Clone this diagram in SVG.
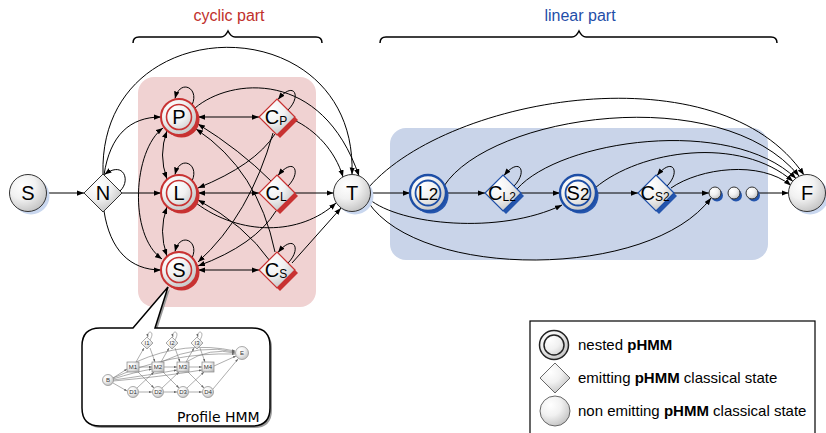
<svg xmlns="http://www.w3.org/2000/svg" width="826" height="433" viewBox="0 0 826 433">
<defs>
  <radialGradient id="g" cx="0.35" cy="0.3" r="0.8">
    <stop offset="0" stop-color="#ffffff"/>
    <stop offset="0.45" stop-color="#f1f1f1"/>
    <stop offset="1" stop-color="#bdbdbd"/>
  </radialGradient>
  <marker id="a" viewBox="0 0 8 6" markerWidth="7" markerHeight="5.5" refX="8" refY="3" orient="auto-start-reverse" markerUnits="userSpaceOnUse">
    <path d="M0,0 L8,3 L0,6 z" fill="#000"/>
  </marker>
  <marker id="sa" viewBox="0 0 8 6" markerWidth="3" markerHeight="2.4" refX="8" refY="3" orient="auto" markerUnits="userSpaceOnUse">
    <path d="M0,0 L8,3 L0,6 z" fill="#666"/>
  </marker>
</defs>
<style>
  .e{fill:none;stroke:#000;stroke-width:1;marker-end:url(#a)}
  .bi{marker-start:url(#a)}
  .lbl{font-family:"Liberation Sans",Arial,sans-serif;font-size:20px;text-anchor:middle;fill:#000}
  .sub{font-size:12px}
  .nf{fill:url(#g);stroke:#333;stroke-width:1}
  .ls{fill:#c9d7ef}
  .rf{fill:url(#g);stroke:#c83232;stroke-width:2}
  .rin{fill:none;stroke:#c83232;stroke-width:1.6}
  .rd{fill:url(#g);stroke:#c83232;stroke-width:1.2}
  .rs{fill:#c83232}
  .bf{fill:url(#g);stroke:#1d4ea6;stroke-width:2.4}
  .bin{fill:none;stroke:#1d4ea6;stroke-width:1.8}
  .bd{fill:url(#g);stroke:#1d4ea6;stroke-width:1.2}
  .bs{fill:#2455ad}
  .ttl{font-family:"Liberation Sans",Arial,sans-serif;font-size:16px;text-anchor:middle}
  .brace{fill:none;stroke:#000;stroke-width:1.5}
  .leg{font-family:"Liberation Sans",Arial,sans-serif;font-size:15px;fill:#000}
  .pe{fill:none;stroke:#777;stroke-width:0.6;marker-end:url(#sa)}
  .pn{fill:url(#g);stroke:#888;stroke-width:0.7}
  .pt{font-family:"Liberation Sans",Arial,sans-serif;font-size:6px;text-anchor:middle;fill:#333}
</style>

<!-- titles and braces -->
<g id="titles">
  <text x="229" y="21" class="ttl" fill="#c0302c">cyclic part</text>
  <path class="brace" d="M133,43 Q133,37 139,37 L221,37 Q225,37 228,31 Q231,37 235,37 L316,37 Q322,37 322,43"/>
  <text x="580" y="21" class="ttl" fill="#1f4ea8">linear part</text>
  <path class="brace" d="M380,43 Q380,37 386,37 L572,37 Q576,37 579,31 Q582,37 586,37 L771,37 Q777,37 777,43"/>
</g>

<!-- background regions -->
<rect id="cyclic-bg" x="138" y="77" width="178" height="230" rx="16" fill="#f0d2d2"/>
<rect id="linear-bg" x="390" y="128" width="378" height="132" rx="16" fill="#c9d4e9"/>

<!-- connectors -->
<g id="connectors">
  <path class="e" d="M47.5,193 L84,193"/>
  <path class="e" d="M120,191 C131,181 124,160 104.5,174.5"/>
  <path class="e" d="M103,174 C98,5 358,5 352,174.5"/>
  <path class="e" d="M104,175 C110,135 130,117 161,117"/>
  <path class="e" d="M122,193 L161,193"/>
  <path class="e" d="M104,211 C110,250 130,270 161,270"/>

  <path class="e" d="M192,105 C200,88 180,78 175,98.5"/>
  <path class="e" d="M192,181 C200,164 180,154 175,174.5"/>
  <path class="e" d="M192,258 C200,241 180,231 175,251.5"/>

  <path class="e bi" d="M167,131 Q158,155 167,179"/>
  <path class="e bi" d="M167,207 Q158,231 167,256" stroke-width="1.5"/>
  <path class="e bi" d="M163,128 C133,150 128,235 162,259"/>

  <path class="e bi" d="M198,117 L259,117"/>
  <path class="e bi" d="M198,193 L259,193"/>
  <path class="e bi" d="M198,270 L259,270"/>

  <path class="e" d="M288,110 C302,96 294,80 278,99.5"/>
  <path class="e" d="M288,186 C302,172 294,156 278,175.5"/>
  <path class="e" d="M288,263 C302,249 294,233 278,252.5"/>

  <path class="e" d="M275,134 Q255,165 198,188"/>
  <path class="e" d="M273,133 Q250,215 198,262"/>
  <path class="e" d="M271,181 Q240,150 198,124"/>
  <path class="e" d="M276,211 Q255,245 198,266"/>
  <path class="e" d="M275,252 Q258,170 196,129"/>
  <path class="e" d="M270,261 Q245,225 198,200"/>

  <path class="e" d="M294,120 C315,130 335,150 343,177"/>
  <path class="e" d="M295,193 L333.5,193"/>
  <path class="e" d="M292,263 L341,208"/>
  <path class="e" d="M196,203 C240,236 300,236 336,203"/>
  <path class="e" d="M195,108 C230,78 322,68 359,176"/>

  <path class="e" d="M370.5,193 L410,193"/>
  <path class="e" d="M446,193 L485,193"/>
  <path class="e" d="M521,193 L560,193"/>
  <path class="e" d="M596,193 L638,193"/>
  <path class="e" d="M674,193 L709,193"/>
  <path class="e" d="M758,193 L788.5,193"/>
  <path class="e" d="M514,186 C528,172 520,156 504,175.5"/>
  <path class="e" d="M667,186 C681,172 673,156 657,175.5"/>

  <path class="e" d="M369,199 C400,225 500,235 562,205"/>
  <path class="e" d="M368,202 C420,280 650,280 711,198"/>
  <path class="e" d="M369,187 C450,95 720,50 804,175"/>
  <path class="e" d="M444,186 C490,115 720,80 799,176"/>
  <path class="e" d="M517,189 C560,140 730,115 796,178.5"/>
  <path class="e" d="M595,188 C640,150 740,135 793,181.5"/>
  <path class="e" d="M671,188 C700,168 760,160 791,185.5"/>
</g>

<!-- nodes -->
<g id="node-start">
  <circle cx="31" cy="196" r="18.5" class="ls"/>
  <circle cx="28" cy="193" r="18.5" class="nf"/>
  <text x="28" y="200" class="lbl">S</text>
</g>
<g id="node-N">
  <path d="M103,174 L122,193 L103,212 L84,193 z" class="nf"/>
  <text x="103" y="200" class="lbl">N</text>
</g>
<g id="node-P">
  <circle cx="181.5" cy="119.5" r="18" class="rs"/>
  <circle cx="179" cy="117" r="18" class="rf"/>
  <circle cx="179" cy="117" r="12.5" class="rin"/>
  <text x="179" y="124" class="lbl">P</text>
</g>
<g id="node-L">
  <circle cx="181.5" cy="195.5" r="18" class="rs"/>
  <circle cx="179" cy="193" r="18" class="rf"/>
  <circle cx="179" cy="193" r="12.5" class="rin"/>
  <text x="179" y="200" class="lbl">L</text>
</g>
<g id="node-S">
  <circle cx="181.5" cy="272.5" r="18" class="rs"/>
  <circle cx="179" cy="270" r="18" class="rf"/>
  <circle cx="179" cy="270" r="12.5" class="rin"/>
  <text x="179" y="277" class="lbl">S</text>
</g>
<g id="node-CP">
  <path d="M280,102 L298,120 L280,138 L262,120 z" class="rs"/>
  <path d="M277,99 L295,117 L277,135 L259,117 z" class="rd"/>
  <text x="276" y="124" class="lbl">C<tspan class="sub" dy="1">P</tspan></text>
</g>
<g id="node-CL">
  <path d="M280,178 L298,196 L280,214 L262,196 z" class="rs"/>
  <path d="M277,175 L295,193 L277,211 L259,193 z" class="rd"/>
  <text x="276" y="200" class="lbl">C<tspan class="sub" dy="1">L</tspan></text>
</g>
<g id="node-CS">
  <path d="M280,255 L298,273 L280,291 L262,273 z" class="rs"/>
  <path d="M277,252 L295,270 L277,288 L259,270 z" class="rd"/>
  <text x="276" y="277" class="lbl">C<tspan class="sub" dy="1">S</tspan></text>
</g>
<g id="node-T">
  <circle cx="355" cy="196" r="18.5" class="ls"/>
  <circle cx="352" cy="193" r="18.5" class="nf"/>
  <text x="352" y="200" class="lbl">T</text>
</g>
<g id="node-L2">
  <circle cx="430.5" cy="195.5" r="18" class="bs"/>
  <circle cx="428" cy="193" r="18" class="bf"/>
  <circle cx="428" cy="193" r="12.5" class="bin"/>
  <text x="428" y="200" class="lbl">L<tspan font-size="17">2</tspan></text>
</g>
<g id="node-CL2">
  <path d="M506,178 L524,196 L506,214 L488,196 z" class="bs"/>
  <path d="M503,175 L521,193 L503,211 L485,193 z" class="bd"/>
  <text x="502" y="200" class="lbl">C<tspan class="sub" dy="1">L2</tspan></text>
</g>
<g id="node-S2">
  <circle cx="580.5" cy="195.5" r="18" class="bs"/>
  <circle cx="578" cy="193" r="18" class="bf"/>
  <circle cx="578" cy="193" r="12.5" class="bin"/>
  <text x="578" y="200" class="lbl">S<tspan font-size="17">2</tspan></text>
</g>
<g id="node-CS2">
  <path d="M659,178 L677,196 L659,214 L641,196 z" class="bs"/>
  <path d="M656,175 L674,193 L656,211 L638,193 z" class="bd"/>
  <text x="655" y="200" class="lbl">C<tspan class="sub" dy="1">S2</tspan></text>
</g>
<g id="node-dots">
  <circle cx="717" cy="195.5" r="6" class="bs"/>
  <circle cx="715" cy="193" r="6" class="nf" stroke="#666"/>
  <circle cx="736" cy="195.5" r="6" class="bs"/>
  <circle cx="734" cy="193" r="6" class="nf" stroke="#666"/>
  <circle cx="754" cy="195.5" r="6" class="bs"/>
  <circle cx="752" cy="193" r="6" class="nf" stroke="#666"/>
</g>
<g id="node-F">
  <circle cx="810" cy="196" r="18.5" class="ls"/>
  <circle cx="807" cy="193" r="18.5" class="nf"/>
  <text x="807" y="200" class="lbl">F</text>
</g>

<!-- profile HMM callout -->
<g id="profile-hmm">
  <path d="M100,328 L133,328 L168,287 L155,328 L252,328 Q270,328 270,346 L270,408 Q270,426 252,426 L100,426 Q82,426 82,408 L82,346 Q82,328 100,328 z" fill="#999" transform="translate(2,2)"/>
  <path d="M100,328 L133,328 L168,287 L155,328 L252,328 Q270,328 270,346 L270,408 Q270,426 252,426 L100,426 Q82,426 82,408 L82,346 Q82,328 100,328 z" fill="#fff" stroke="#000" stroke-width="1.5"/>
  <g id="phmm-edges">
    <path class="pe" d="M113,378 L127,369"/>
    <path class="pe" d="M113,383 L127,391"/>
    <path class="pe" d="M113,379 Q135,372 152,369"/>
    <path class="pe" d="M113,380 Q150,375 177,370"/>
    <path class="pe" d="M113,381 Q160,377 202,370"/>
    <path class="pe" d="M113,378 Q170,352 235,354"/>
    <path class="pe" d="M139,367 L152,367"/>
    <path class="pe" d="M164,367 L177,367"/>
    <path class="pe" d="M189,367 L202,367"/>
    <path class="pe" d="M136,362 L144,348"/>
    <path class="pe" d="M161,362 L169,348"/>
    <path class="pe" d="M186,362 L194,348"/>
    <path class="pe" d="M150,348 L155,362"/>
    <path class="pe" d="M175,348 L180,362"/>
    <path class="pe" d="M200,348 L205,362"/>
    <path class="pe" d="M137,371 L154,388"/>
    <path class="pe" d="M162,371 L179,388"/>
    <path class="pe" d="M187,371 L204,388"/>
    <path class="pe" d="M137,388 L154,372"/>
    <path class="pe" d="M162,388 L179,372"/>
    <path class="pe" d="M187,388 L204,372"/>
    <path class="pe" d="M139,392 L152,392"/>
    <path class="pe" d="M164,392 L177,392"/>
    <path class="pe" d="M189,392 L202,392"/>
    <path class="pe" d="M214,366 L236,356"/>
    <path class="pe" d="M213,389 L238,359"/>
    <path class="pe" d="M136,362 Q185,340 235,351"/>
    <path class="pe" d="M161,362 Q200,343 235,352"/>
    <path class="pe" d="M186,362 Q210,347 235,353"/>
    <path class="pe" d="M150,340 C156,330 146,330 148,337"/>
    <path class="pe" d="M175,340 C181,330 171,330 173,337"/>
    <path class="pe" d="M200,340 C206,330 196,330 198,337"/>
  </g>
  <g id="phmm-nodes">
    <circle cx="108" cy="380" r="5.5" class="pn"/><text x="108" y="382" class="pt">B</text>
    <rect x="127" y="362" width="12" height="10" class="pn"/><text x="133" y="369" class="pt">M1</text>
    <rect x="152" y="362" width="12" height="10" class="pn"/><text x="158" y="369" class="pt">M2</text>
    <rect x="177" y="362" width="12" height="10" class="pn"/><text x="183" y="369" class="pt">M3</text>
    <rect x="202" y="362" width="12" height="10" class="pn"/><text x="208" y="369" class="pt">M4</text>
    <path d="M147,337 L153,343 L147,349 L141,343 z" class="pn"/><text x="147" y="345" class="pt">I1</text>
    <path d="M172,337 L178,343 L172,349 L166,343 z" class="pn"/><text x="172" y="345" class="pt">I2</text>
    <path d="M197,337 L203,343 L197,349 L191,343 z" class="pn"/><text x="197" y="345" class="pt">I3</text>
    <circle cx="133" cy="392" r="5.5" class="pn"/><text x="133" y="394" class="pt">D1</text>
    <circle cx="158" cy="392" r="5.5" class="pn"/><text x="158" y="394" class="pt">D2</text>
    <circle cx="183" cy="392" r="5.5" class="pn"/><text x="183" y="394" class="pt">D3</text>
    <circle cx="208" cy="392" r="5.5" class="pn"/><text x="208" y="394" class="pt">D4</text>
    <circle cx="242" cy="353" r="6.5" class="pn"/><text x="242" y="355" class="pt">E</text>
  </g>
  <text x="177" y="422" font-family="'DejaVu Sans',Verdana,sans-serif" font-size="14" fill="#000">Profile HMM</text>
</g>

<!-- legend -->
<g id="legend">
  <rect x="530" y="321" width="285" height="118" fill="#fff" stroke="#000" stroke-width="1.2"/>
  <circle cx="554" cy="345" r="14.5" fill="url(#g)" stroke="#222" stroke-width="1.5"/>
  <circle cx="554" cy="345" r="10" fill="none" stroke="#222" stroke-width="1.5"/>
  <text x="578" y="350" class="leg">nested <tspan font-weight="bold">pHMM</tspan></text>
  <path d="M555,363 L570,378 L555,393 L540,378 z" fill="url(#g)" stroke="#444" stroke-width="0.8"/>
  <text x="578" y="383" class="leg">emitting <tspan font-weight="bold">pHMM</tspan> classical state</text>
  <circle cx="555" cy="411" r="15" fill="url(#g)" stroke="#444" stroke-width="0.8"/>
  <text x="578" y="416" class="leg">non emitting <tspan font-weight="bold">pHMM</tspan> classical state</text>
</g>
</svg>
